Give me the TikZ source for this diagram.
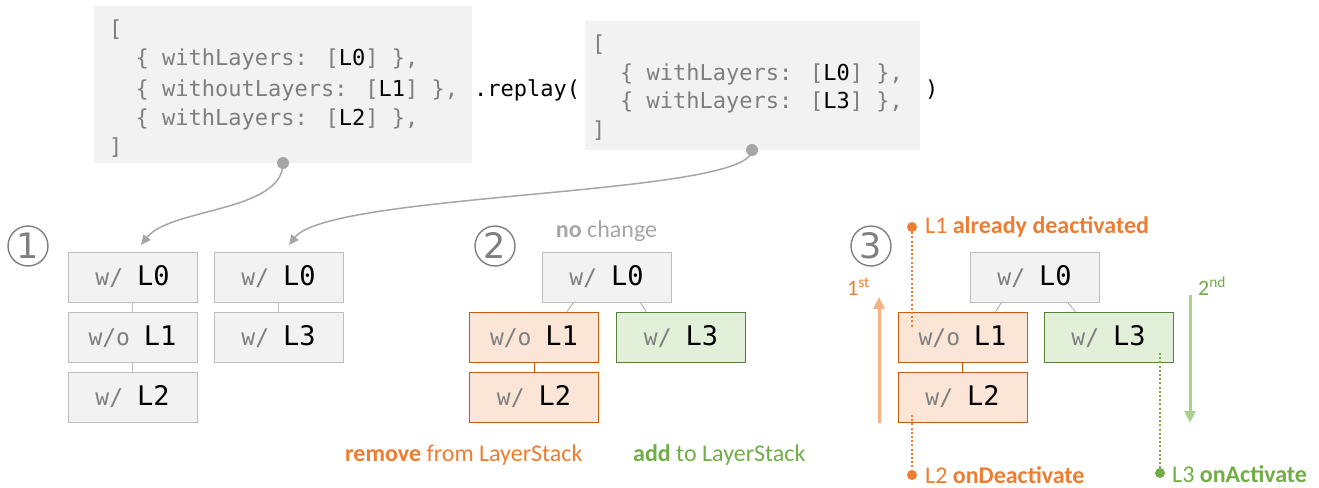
\documentclass[tikz,border=0pt]{standalone}
\usepackage{fontspec}
\setmainfont{Carlito}
\newfontfamily\codefont{DejaVu Sans Mono}
\newfontfamily\symfont{DejaVu Sans}
\usetikzlibrary{arrows.meta,calc}

\definecolor{codebg}{HTML}{F2F2F2}
\definecolor{codegray}{HTML}{7F7F7F}
\definecolor{boxline}{HTML}{BFBFBF}
\definecolor{wirecol}{HTML}{A6A6A6}
\definecolor{orgline}{HTML}{C55A11}
\definecolor{orgfill}{HTML}{FBE5D6}
\definecolor{orgtext}{HTML}{ED7D31}
\definecolor{orglight}{HTML}{F4B183}
\definecolor{grnline}{HTML}{548235}
\definecolor{grnfill}{HTML}{E2F0D9}
\definecolor{grntext}{HTML}{70AD47}
\definecolor{grnlight}{HTML}{A9D18E}

% "w/ L0" style label: gray modifier, larger black layer name
\newcommand\layertext[2]{{\color{codegray}\fontsize{23}{28}\selectfont#1 }{\fontsize{27}{28}\selectfont#2}\hspace{6pt}}

\begin{document}
\begin{tikzpicture}[x=1pt,y=-1pt,
  codebox/.style={fill=codebg, draw=none, inner sep=0, anchor=north west},
  codeline/.style={font=\codefont\fontsize{22}{28}\selectfont, text=codegray, anchor=base west, inner sep=0},
  plainline/.style={font=\codefont\fontsize{22}{28}\selectfont, text=black, anchor=base west, inner sep=0},
  layer/.style={draw=boxline, fill=codebg, line width=0.8pt, minimum width=129pt, minimum height=50pt, inner sep=0, font=\codefont},
  dellayer/.style={layer, draw=orgline, fill=orgfill},
  addlayer/.style={layer, draw=grnline, fill=grnfill},
  link/.style={draw=boxline, line width=0.8pt},
  wire/.style={draw=wirecol, line width=1.5pt, -{Triangle[length=10pt,width=9pt]}},
  wiredot/.style={circle, fill=wirecol, inner sep=0, minimum size=12pt},
  stepnum/.style={circle, draw=codegray, line width=1.4pt, minimum size=40pt, inner sep=0, font=\symfont\fontsize{35}{35}\selectfont, text=codegray},
  note/.style={font=\fontsize{24}{28}\selectfont, inner sep=0, anchor=west},
  order/.style={font=\fontsize{22}{26}\selectfont, anchor=base west, inner sep=0},
  orgdots/.style={draw=orgtext, line width=2pt, dash pattern=on 2pt off 2.2pt},
  grndots/.style={draw=grntext, line width=2pt, dash pattern=on 2pt off 2.2pt},
  enddot/.style={circle, inner sep=0, minimum size=10pt},
]
\useasboundingbox (0,0) rectangle (1319,487);

% ---- first layer list ----
\node[codebox, minimum width=378pt, minimum height=157pt] (cfgA) at (94,6) {};
\node[codeline] (a1) at (109,37) {[};
\node[codeline] (a2) at (135.5,66) {\{ withLayers: [\textcolor{black}{L0}] \},};
\node[codeline] (a3) at (135.5,96) {\{ withoutLayers: [\textcolor{black}{L1}] \},};
\node[codeline] (a4) at (135.5,125) {\{ withLayers: [\textcolor{black}{L2}] \},};
\node[codeline] (a5) at (109,154) {]};

\node[plainline] (replay) at (474,96) {.replay(};

% ---- second layer list ----
\node[codebox, minimum width=335pt, minimum height=129pt] (cfgB) at (585,21) {};
\node[codeline] (b1) at (592,52) {[};
\node[codeline] (b2) at (620,80) {\{ withLayers: [\textcolor{black}{L0}] \},};
\node[codeline] (b3) at (620,108) {\{ withLayers: [\textcolor{black}{L3}] \},};
\node[codeline] (b4) at (592,137) {]};

\node[plainline] (close) at (925,96) {)};

% ---- step 1 ----
\node[stepnum] (n1) at (28,246) {1};
\node[layer] (s1a0) at (132.5,277) {\layertext{w/}{L0}};
\node[layer] (s1a1) at (132.5,337) {\layertext{w/o}{L1}};
\node[layer] (s1a2) at (132.5,397) {\layertext{w/}{L2}};
\node[layer] (s1b0) at (278.5,277) {\layertext{w/}{L0}};
\node[layer] (s1b3) at (278.5,337) {\layertext{w/}{L3}};
\draw[link] (s1a0) -- (s1a1);
\draw[link] (s1a1) -- (s1a2);
\draw[link] (s1b0) -- (s1b3);

% arrows from the lists to their stacks
\node[wiredot] (dotA) at (283,163) {};
\node[wiredot] (dotB) at (752,150) {};
\coordinate (tipA) at (141,245);
\coordinate (tipB) at (289,245);
\draw[wire] (dotA.center) .. controls (283,212) and (170,208) .. (tipA);
\draw[wire] (dotB.center) .. controls (752,196) and (330,192) .. (tipB);

% ---- step 2 ----
\node[stepnum] (n2) at (495,246) {2};
\node[font=\fontsize{24}{28}\selectfont, text=wirecol, inner sep=0] (nochange) at (606.5,231) {\textbf{no} change};
\node[layer] (s2l0) at (606.5,277) {\layertext{w/}{L0}};
\node[dellayer] (s2l1) at (534,337) {\layertext{w/o}{L1}};
\node[dellayer] (s2l2) at (534,397) {\layertext{w/}{L2}};
\node[addlayer] (s2l3) at (681,337) {\layertext{w/}{L3}};
\draw[draw=wirecol, line width=0.8pt] ($(s2l0.south)+(-33,0)$) -- ($(s2l1.north)+(33,0)$);
\draw[draw=wirecol, line width=0.8pt] ($(s2l0.south)+(34,0)$) -- ($(s2l3.north)+(-35,0)$);
\draw[draw=orgline, line width=0.8pt] (s2l1) -- (s2l2);
\node[note, text=orgtext] (remove) at (345,455) {\textbf{remove} from LayerStack};
\node[note, text=grntext] (add) at (633,455) {\textbf{add} to LayerStack};

% ---- step 3 ----
\node[stepnum] (n3) at (871,246) {3};
\node[layer] (s3l0) at (1034.5,277) {\layertext{w/}{L0}};
\node[dellayer] (s3l1) at (962.5,337) {\layertext{w/o}{L1}};
\node[dellayer] (s3l2) at (962.5,397) {\layertext{w/}{L2}};
\node[addlayer] (s3l3) at (1108.5,337) {\layertext{w/}{L3}};
\draw[draw=wirecol, line width=0.8pt] ($(s3l0.south)+(-33,0)$) -- ($(s3l1.north)+(33,0)$);
\draw[draw=wirecol, line width=0.8pt] ($(s3l0.south)+(33,0)$) -- ($(s3l3.north)+(-33,0)$);
\draw[draw=orgline, line width=0.8pt] (s3l1) -- (s3l2);

% order of the callbacks
\coordinate (upA) at (879,423);
\coordinate (upB) at (879,297);
\draw[draw=orglight, line width=3pt, -{Triangle[length=12pt,width=11pt]}] (upA) -- (upB);
\node[order, text=orgtext] (first) at (847,295) {1\textsuperscript{st}};
\coordinate (downA) at (1190,295);
\coordinate (downB) at (1190,423);
\draw[draw=grnlight, line width=3pt, -{Triangle[length=12pt,width=11pt]}] (downA) -- (downB);
\node[order, text=grntext] (second) at (1198,295) {2\textsuperscript{nd}};

% callbacks attached to the stack entries
\node[enddot, fill=orgtext] (d1) at (912,227) {};
\coordinate (d1end) at (912,327);
\draw[orgdots] (d1) -- (d1end);
\node[note, text=orgtext] (l1note) at (925,227) {L1 \textbf{already deactivated}};

\coordinate (d2start) at (912,415);
\node[enddot, fill=orgtext] (d2) at (912,475) {};
\draw[orgdots] (d2start) -- (d2);
\node[note, text=orgtext] (l2note) at (925,475) {L2 \textbf{onDeactivate}};

\coordinate (d3start) at (1160,353);
\node[enddot, fill=grntext] (d3) at (1160,473) {};
\draw[grndots] (d3start) -- (d3);
\node[note, text=grntext] (l3note) at (1172,474) {L3 \textbf{onActivate}};
\end{tikzpicture}
\end{document}
